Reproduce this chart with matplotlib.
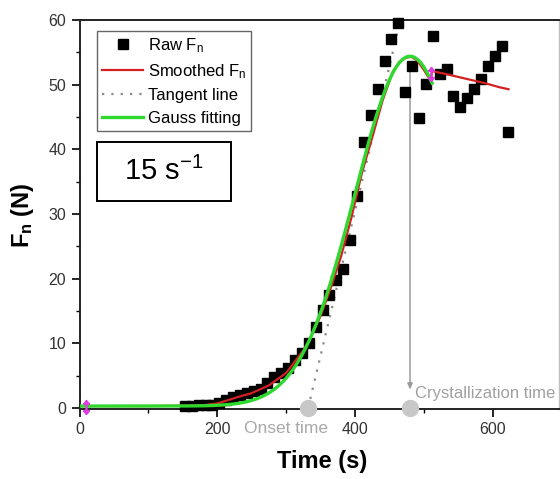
import numpy as np
import matplotlib
matplotlib.use("Agg")
import matplotlib.pyplot as plt
from matplotlib.patches import Rectangle

plt.rcParams["font.family"] = ["Liberation Sans", "DejaVu Sans"]
plt.rcParams["mathtext.fontset"] = "custom"
plt.rcParams["mathtext.rm"] = "Liberation Sans"
plt.rcParams["mathtext.it"] = "Liberation Sans:italic"
plt.rcParams["mathtext.bf"] = "Liberation Sans:bold"

# Raw normal force readings
time_raw = [153, 163, 173, 183, 193, 203, 213, 223, 233, 243, 253, 263, 273, 283,
            293, 303, 313, 323, 333, 343, 353, 363, 373, 383, 393, 403, 413, 423,
            433, 443, 453, 463, 473, 483, 493, 503, 513, 523, 533, 543, 553, 563,
            573, 583, 593, 603, 613, 623]
force_raw = [0.3, 0.3, 0.4, 0.4, 0.5, 0.8, 1.2, 1.7, 2.0, 2.3, 2.7, 3.0, 3.9, 4.8,
             5.4, 6.2, 7.4, 8.5, 10.0, 12.5, 15.2, 17.4, 19.8, 21.5, 26.0, 32.8, 41.2, 45.3,
             49.3, 53.7, 57.0, 59.6, 48.8, 52.9, 44.9, 50.1, 57.5, 51.6, 52.4, 48.3, 46.5, 48.0,
             49.3, 50.9, 52.9, 54.5, 56.0, 42.7]

# Smoothed normal force
time_smooth = [0, 100, 150, 180, 200, 215, 230, 250, 275, 300, 325, 335, 350, 365,
               380, 395, 410, 425, 440, 455, 465, 475, 482, 490, 500, 510,
               512, 530, 550, 570, 590, 610, 623]
force_smooth = [0.3, 0.3, 0.35, 0.45, 0.7, 1.2, 1.7, 2.3, 3.5, 5.4, 8.9, 10.8, 14.2, 18.6,
                23.5, 29.5, 36.3, 41.8, 47.5, 52.0, 53.6, 54.2, 54.3, 53.8, 52.3, 50.6,
                52.1, 51.7, 51.2, 50.7, 50.2, 49.6, 49.3]

# Gauss fit parameters: baseline, amplitude, centre, width
gauss_y0, gauss_amp, gauss_xc, gauss_w = 0.3, 54.1, 480.0, 80.0
gauss_range = (0, 512)

# Characteristic times
onset_time = 332
crystallization_time = 480
tangent_top = (466, 60)

fig = plt.figure(figsize=(5.6, 4.79), dpi=100)
ax = fig.add_axes([0.142, 0.1455, 0.857, 0.8127])

tx = np.linspace(*gauss_range, 400)
gauss = gauss_y0 + gauss_amp * np.exp(-(tx - gauss_xc) ** 2 / (2 * gauss_w ** 2))

ax.plot(time_raw, force_raw, ls="none", marker="s", ms=6.5, color="black",
        label=r"Raw F$_\mathregular{n}$", zorder=3, clip_on=False)
ax.plot(time_smooth, force_smooth, color="#d42020", lw=1.6,
        label=r"Smoothed F$_\mathregular{n}$", zorder=4)
ax.plot([onset_time, tangent_top[0]], [0, tangent_top[1]], color="#8a8a8a",
        lw=1.6, ls=(0, (1, 3.2)), label="Tangent line", zorder=2, clip_on=False)
ax.plot(tx, gauss, color="#2ed82e", lw=2.4, label="Gauss fitting", zorder=5)

# Data-range markers
for mx, my in [(9, 0.2), (510, 51.6)]:
    ax.plot(mx, my, marker=r"$\updownarrow$", ms=10, color="#e03ce0", zorder=6,
            clip_on=False)

# Crystallization time indicator
ax.annotate("", xy=(crystallization_time, 2.4), xytext=(crystallization_time, 53.8),
            arrowprops=dict(arrowstyle="-|>,head_length=0.35,head_width=0.15",
                            color="#9a9a9a", lw=1.1), zorder=1)
ax.plot([onset_time, crystallization_time], [0, 0], ls="none", marker="o", ms=11.5,
        color="#c8c8c8", zorder=7, clip_on=False)
ax.text(487, 2.2, "Crystallization time", color="#a0a0a0", fontsize=12,
        va="center", ha="left")
ax.text(300, (409.3 - 428) / 389.3, "Onset time", color="#a8a8a8", fontsize=12.5,
        va="center", ha="center", transform=ax.get_xaxis_transform())

ax.set_xlim(0, 697)
ax.set_ylim(-0.2, 60)
ax.set_xticks([0, 200, 400, 600])
ax.set_xticks([100, 300, 500], minor=True)
ax.set_yticks([0, 10, 20, 30, 40, 50, 60])
ax.set_yticks([5, 15, 25, 35, 45, 55], minor=True)
ax.tick_params(which="major", direction="out", length=6, width=1.2,
               labelsize=11.5, labelcolor="#333333", pad=3.5)
ax.tick_params(which="minor", direction="out", length=3, width=1.0)
for side in ["left", "bottom", "top"]:
    ax.spines[side].set_linewidth(1.4)
    ax.spines[side].set_color("#222222")
ax.spines["right"].set_color("#c0c0c0")
ax.spines["right"].set_linewidth(1.0)

ax.set_xlabel("Time (s)", fontsize=17, fontweight="bold")
ax.xaxis.set_label_coords((322 - 79.6) / 480, (409.3 - 461) / 389.3)
ax.xaxis.label.set_va("center")
ax.set_ylabel(r"F$_\mathregular{n}$ (N)", fontsize=17, fontweight="bold")
ax.yaxis.set_label_coords((23 - 79.6) / 480, (409.3 - 215) / 389.3)
ax.yaxis.label.set_va("center")

leg = ax.legend(loc="upper left", bbox_to_anchor=(0.036, 0.972), borderaxespad=0,
                fontsize=12, frameon=True, fancybox=False, framealpha=1,
                edgecolor="#666666", handlelength=2.5, handletextpad=0.25,
                labelspacing=0.45, borderpad=0.3)
leg.get_frame().set_linewidth(1.0)

ax.add_patch(Rectangle((0.036, 0.535), 0.279, 0.152, transform=ax.transAxes,
                       fill=False, edgecolor="black", lw=1.4, zorder=8))
ax.text(0.036 + 0.1395, 0.611, r"15 s$^\mathregular{-1}$", transform=ax.transAxes,
        fontsize=21, ha="center", va="center", zorder=8)

fig.savefig("out.png", dpi=100)
